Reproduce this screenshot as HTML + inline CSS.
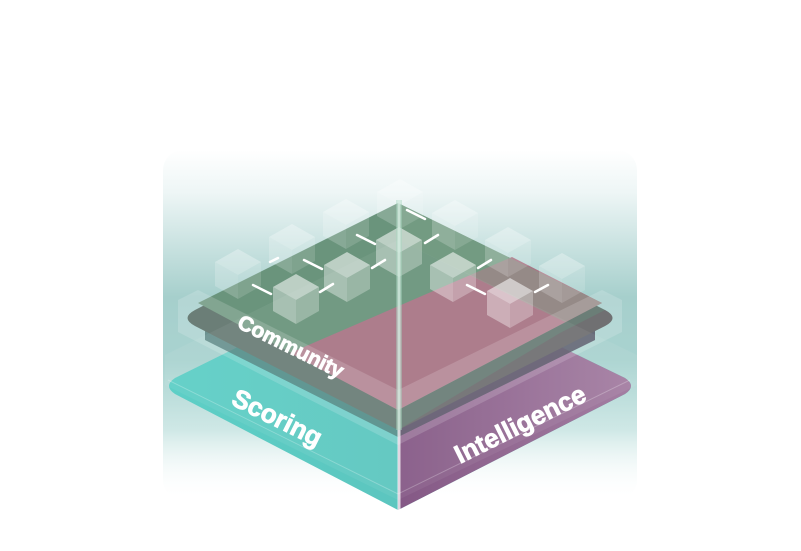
<!DOCTYPE html>
<html><head><style>
html,body{margin:0;padding:0;background:#fff;}
svg{display:block;}
text{font-family:"Liberation Sans",sans-serif;font-weight:bold;fill:#fff;stroke:#fff;stroke-width:0.8;}
</style></head><body>
<svg width="801" height="551" viewBox="0 0 801 551" xmlns="http://www.w3.org/2000/svg">
<defs>
<linearGradient id="bg" x1="0" y1="0" x2="0" y2="1">
<stop offset="0" stop-color="#ffffff" stop-opacity="1"/>
<stop offset="0.12" stop-color="#eef6f6"/>
<stop offset="0.42" stop-color="#a6cfcc"/>
<stop offset="0.6" stop-color="#a9d3d0"/>
<stop offset="0.8" stop-color="#cfe8e6"/>
<stop offset="1" stop-color="#ffffff" stop-opacity="0"/>
</linearGradient>
<linearGradient id="teal" x1="0" y1="0" x2="1" y2="0">
<stop offset="0" stop-color="#5dcfc6"/><stop offset="1" stop-color="#5bbcb8"/>
</linearGradient>
<linearGradient id="purp" x1="0" y1="0" x2="1" y2="0">
<stop offset="0" stop-color="#845885"/><stop offset="1" stop-color="#a47ea2"/>
</linearGradient>
<g id="cube">
<path d="M0,-13 L23,0 L0,13 L-23,0 Z" fill="#fff" fill-opacity="0.55"/>
<path d="M-23,0 L0,13 L0,37 L-23,24 Z" fill="#fff" fill-opacity="0.38"/>
<path d="M23,0 L0,13 L0,37 L23,24 Z" fill="#fff" fill-opacity="0.28"/>
</g>
<g id="fcube">
<path d="M0,-13 L23,0 L0,13 L-23,0 Z" fill="#fff" fill-opacity="0.3"/>
<path d="M-23,0 L0,13 L0,37 L-23,24 Z" fill="#fff" fill-opacity="0.2"/>
<path d="M23,0 L0,13 L0,37 L23,24 Z" fill="#fff" fill-opacity="0.14"/>
</g>
</defs>
<rect x="163" y="150" width="474" height="350" rx="20" fill="url(#bg)"/>
<path d="M175,378 L398,268 L625,378 Q637,386 625,394 L398,510 L175,394 Q163,386 175,378 Z" fill="url(#teal)"/>
<path d="M398,268 L625,378 Q637,386 625,394 L398,510 Z" fill="url(#purp)"/>
<path d="M168,380 L398,494 L630,380" fill="none" stroke="#ffffff" stroke-opacity="0.25" stroke-width="1"/>
<path d="M205,340 L398,437 L595,340 L595,320 L205,320 Z" fill="#2a5b58" fill-opacity="0.7"/>
<path d="M398,437 L595,340 L595,320 L398,320 Z" fill="#4a2a4a" fill-opacity="0.55"/>
<path d="M195,310 L398,205 L605,310 Q620,318 605,326 L398,430 L195,326 Q180,318 195,310 Z" fill="#4f665d"/>
<path d="M398,430 L605,326 Q620,318 605,310 L560,333 Z" fill="#5a4a55" fill-opacity="0.6"/>
<path d="M198,303 L398,203 L602,303 L398,410 Z" fill="#6a947c"/>
<path d="M290,353 L512,257 L602,303 L398,410 Z" fill="#a87585"/>
<path d="M398,203 L602,303 L565,322 L398,240 Z" fill="#7fa48a" fill-opacity="0.45"/>
<path d="M178,300 L198,290 L398,390 L602,290 L622,300 L622,332 L398,445 L178,332 Z" fill="#ffffff" fill-opacity="0.16"/>
<path d="M165,355 L398,240 L637,355 L637,385 L398,500 L165,385 Z" fill="#ffffff" fill-opacity="0.06"/>
<use href="#fcube" x="238" y="262"/>
<use href="#fcube" x="292" y="237"/>
<use href="#fcube" x="346" y="212"/>
<use href="#fcube" x="400" y="192"/>
<use href="#fcube" x="455" y="213"/>
<use href="#fcube" x="508" y="240"/>
<use href="#fcube" x="562" y="266"/>
<g stroke="#fff" stroke-width="2.5" stroke-linecap="round">
<line x1="253" y1="285" x2="271" y2="294"/>
<line x1="320" y1="292" x2="333" y2="284"/>
<line x1="304" y1="260" x2="322" y2="269"/>
<line x1="372" y1="268" x2="385" y2="260"/>
<line x1="357" y1="235" x2="375" y2="244"/>
<line x1="425" y1="243" x2="438" y2="235"/>
<line x1="407" y1="210" x2="425" y2="219"/>
<line x1="478" y1="268" x2="491" y2="260"/>
<line x1="467" y1="285" x2="485" y2="294"/>
<line x1="535" y1="292" x2="548" y2="285"/>
<line x1="270" y1="262" x2="278" y2="258"/>
</g>
<use href="#cube" x="296" y="287"/>
<use href="#cube" x="347" y="265"/>
<use href="#cube" x="399" y="240"/>
<use href="#cube" x="453" y="265"/>
<use href="#cube" x="510" y="291"/>
<line x1="399" y1="200" x2="399" y2="512" stroke="#ffffff" stroke-opacity="0.75" stroke-width="3"/>
<line x1="399" y1="200" x2="399" y2="430" stroke="#a8d8c0" stroke-opacity="0.45" stroke-width="6"/>
<text x="236" y="327" font-size="21" transform="rotate(26.5 236 327)">Community</text>
<text x="230" y="404" font-size="26" transform="rotate(26.5 230 404)">Scoring</text>
<text x="460" y="464" font-size="26" transform="rotate(-26.5 460 464)">Intelligence</text>
</svg>
</body></html>
